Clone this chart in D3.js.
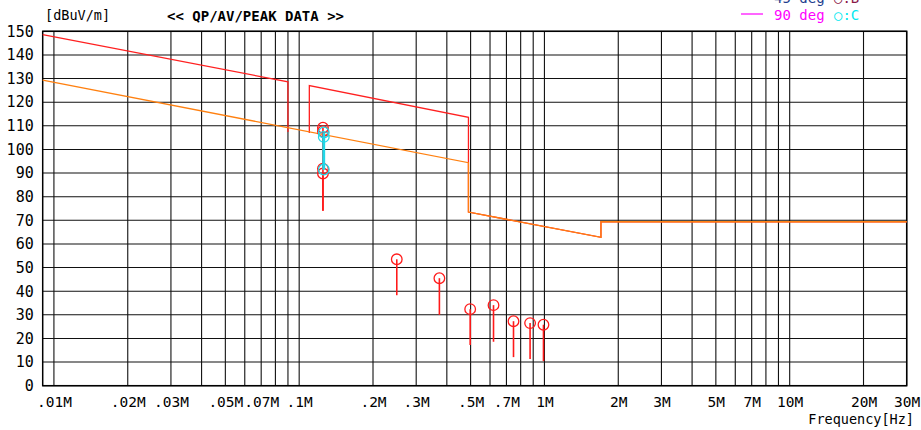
<!DOCTYPE html>
<html>
<head>
<meta charset="utf-8">
<script src="https://cdn.jsdelivr.net/npm/d3@7"></script>
<style>
  body { margin: 0; background: #fff; }
  text { font-family: "DejaVu Sans Mono", monospace; }
</style>
</head>
<body>
<div id="chart"></div>
<script>
// Set dimensions and margins
const width = 921;
const height = 430;
const margin = {left: 42.7, right: 14.3, top: 31.3, bottom: 44.3};

// tick labels (MHz)
const xTicks = [0.01, 0.02, 0.03, 0.05, 0.07, 0.1, 0.2, 0.3, 0.5, 0.7, 1, 2, 3, 5, 7, 10, 20, 30];
const xTickLabels = [".01M", ".02M", ".03M", ".05M", ".07M", ".1M", ".2M", ".3M", ".5M", ".7M",
                     "1M", "2M", "3M", "5M", "7M", "10M", "20M", "30M"];
const yTicks = d3.range(0, 151, 10);

// limit lines (MHz, dBuV/m)
const qpLimit1 = [[0.009, 148.6], [0.09, 128.6], [0.09, 107.4]];
const qpLimit2 = [[0.11, 107.0], [0.11, 127.0], [0.49, 113.6], [0.49, 73.5], [1.7, 62.8], [1.7, 69.4], [30, 69.4]];
const avLimit = [[0.009, 129.3], [0.49, 94.4], [0.49, 73.5], [1.7, 62.8], [1.7, 69.4], [30, 69.4]];

// measured points, 45 deg (B) red
const redFreq = [0.125, 0.125, 0.125, 0.125, 0.25, 0.373, 0.498, 0.62, 0.748, 0.874, 0.991];
const redPeak = [109.2, 107.7, 91.8, 89.8, 53.5, 45.5, 32.4, 34.1, 27.3, 26.5, 25.8];
const redLow  = [91.8, 91.8, 74.0, 74.0, 38.3, 30.0, 17.2, 18.6, 12.1, 11.3, 10.4];

// measured points, 90 deg (C) cyan
const cyanFreq = [0.126, 0.126, 0.126];
const cyanPeak = [107.2, 105.3, 91.5];
const cyanLow  = [91.5, 91.5, 91.5];

let svg = d3.select("#chart")
  .append("svg")
  .attr("width", width)
  .attr("height", height);

// Scales
let xScale = d3.scaleLog()
  .domain([0.009, 30])
  .range([margin.left, width - margin.right]);

let yScale = d3.scaleLinear()
  .domain([0, 150])
  .range([height - margin.bottom, margin.top]);

// grid lines: every 1..9 of each decade
let xGrid = [];
[0.01, 0.1, 1, 10].forEach(function(dec) {
  for (let k = 1; k <= 9; k++) {
    let f = dec * k;
    if (f <= 30) xGrid.push(f);
  }
});

svg.append("g")
  .selectAll("line")
  .data(xGrid)
  .enter()
  .append("line")
    .attr("x1", d => xScale(d))
    .attr("x2", d => xScale(d))
    .attr("y1", yScale(0))
    .attr("y2", yScale(150))
    .attr("stroke", "#111")
    .attr("stroke-width", 1.1);

svg.append("g")
  .selectAll("line")
  .data(yTicks)
  .enter()
  .append("line")
    .attr("x1", xScale(0.009))
    .attr("x2", xScale(30))
    .attr("y1", d => yScale(d))
    .attr("y2", d => yScale(d))
    .attr("stroke", "#111")
    .attr("stroke-width", 1.1);

// frame
svg.append("rect")
  .attr("x", xScale(0.009))
  .attr("y", yScale(150))
  .attr("width", xScale(30) - xScale(0.009))
  .attr("height", yScale(0) - yScale(150))
  .attr("fill", "none")
  .attr("stroke", "#000")
  .attr("stroke-width", 1.5);

// y axis labels
const yAxis = svg.append("g")
  .attr("transform", `translate(${margin.left}, 0)`)
  .call(d3.axisLeft(yScale).tickValues(yTicks).tickSize(0).tickPadding(9));
yAxis.select(".domain").remove();
yAxis.selectAll("text")
  .attr("font-family", "DejaVu Sans Mono")
  .attr("font-size", "15px")
  .attr("fill", "#000");

// x axis labels
const xAxis = svg.append("g")
  .attr("transform", `translate(0, ${height - margin.bottom})`)
  .call(d3.axisBottom(xScale).tickValues(xTicks)
    .tickFormat((d, i) => xTickLabels[i]).tickSize(0).tickPadding(11));
xAxis.select(".domain").remove();
xAxis.selectAll("text")
  .attr("font-family", "DejaVu Sans Mono")
  .attr("font-size", "14.5px")
  .attr("fill", "#000");

// limit lines
const line = d3.line()
  .x(d => xScale(d[0]))
  .y(d => yScale(d[1]));

[qpLimit1, qpLimit2].forEach(function(seg) {
  svg.append("path")
    .datum(seg)
    .attr("d", line)
    .attr("fill", "none")
    .attr("stroke", "#ff2020")
    .attr("stroke-width", 1.3);
});

svg.append("path")
  .datum(avLimit)
  .attr("d", line)
  .attr("fill", "none")
  .attr("stroke", "#ff8010")
  .attr("stroke-width", 1.3);

// points with stems
function drawPoints(freq, peak, low, color, stemWidth) {
  let pts = freq.map((f, i) => ({f: f, peak: peak[i], low: low[i]}));
  svg.append("g")
    .selectAll("line")
    .data(pts)
    .enter()
    .append("line")
      .attr("x1", d => xScale(d.f))
      .attr("x2", d => xScale(d.f))
      .attr("y1", d => yScale(d.peak))
      .attr("y2", d => yScale(d.low))
      .attr("stroke", color)
      .attr("stroke-width", stemWidth);
  svg.append("g")
    .selectAll("circle")
    .data(pts)
    .enter()
    .append("circle")
      .attr("cx", d => xScale(d.f))
      .attr("cy", d => yScale(d.peak))
      .attr("r", 5.3)
      .attr("fill", "none")
      .attr("stroke", color)
      .attr("stroke-width", 1.3);
}

drawPoints(redFreq, redPeak, redLow, "#ff1a1a", 1.6);
drawPoints(cyanFreq, cyanPeak, cyanLow, "#20d8e8", 2.6);

// header texts
svg.append("text")
  .attr("x", 45).attr("y", 20)
  .attr("font-size", "13.5px")
  .text("[dBuV/m]");

svg.append("text")
  .attr("x", 167).attr("y", 21)
  .attr("font-size", "14px")
  .attr("font-weight", "bold")
  .text("<< QP/AV/PEAK DATA >>");

svg.append("text")
  .attr("x", 914).attr("y", 424)
  .attr("text-anchor", "end")
  .attr("font-size", "13.5px")
  .text("Frequency[Hz]");

// legend (partly cut off at top, as in the source)
svg.append("line")
  .attr("x1", 741).attr("x2", 763).attr("y1", -3).attr("y2", -3)
  .attr("stroke", "#1f3f8f").attr("stroke-width", 1.2);
svg.append("text")
  .attr("x", 774).attr("y", 3)
  .attr("font-size", "14px")
  .attr("fill", "#1f3f8f")
  .text("45 deg");
svg.append("text")
  .attr("x", 834).attr("y", 3)
  .attr("font-size", "14px")
  .attr("fill", "#8b1a4a")
  .text("○:B");

svg.append("line")
  .attr("x1", 741).attr("x2", 763).attr("y1", 14).attr("y2", 14)
  .attr("stroke", "#ff00ff").attr("stroke-width", 1.2);
svg.append("text")
  .attr("x", 774).attr("y", 20)
  .attr("font-size", "14px")
  .attr("fill", "#ff00ff")
  .text("90 deg");
svg.append("text")
  .attr("x", 834).attr("y", 20)
  .attr("font-size", "14px")
  .attr("fill", "#00e8f0")
  .text("○:C");
</script>
</body>
</html>
